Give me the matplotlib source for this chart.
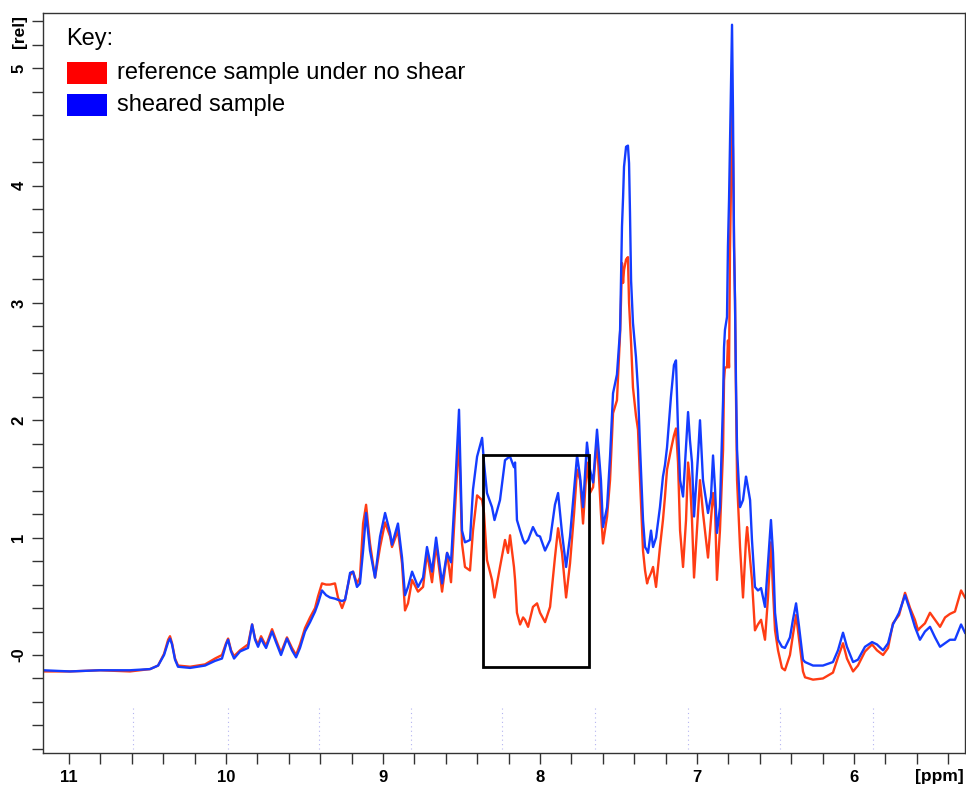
import matplotlib
matplotlib.use('Agg')
import matplotlib.pyplot as plt
from matplotlib.patches import Rectangle
from matplotlib.ticker import MultipleLocator

plt.rcParams['font.family'] = ['Liberation Sans', 'DejaVu Sans']

# chemical shift axis
ppm = [11.166, 10.994, 10.803, 10.612, 10.484, 10.433, 10.395, 10.369, 10.357, 10.344,
       10.325, 10.306, 10.229, 10.134, 10.070, 10.026, 10.000, 9.987, 9.968, 9.949,
       9.911, 9.860, 9.834, 9.815, 9.796, 9.777, 9.758, 9.745, 9.707, 9.682,
       9.650, 9.612, 9.580, 9.554, 9.529, 9.497, 9.465, 9.433, 9.414, 9.389,
       9.363, 9.338, 9.306, 9.287, 9.261, 9.242, 9.223, 9.210, 9.191, 9.166,
       9.147, 9.127, 9.108, 9.083, 9.051, 9.019, 8.987, 8.955, 8.943, 8.905,
       8.879, 8.860, 8.841, 8.815, 8.777, 8.745, 8.720, 8.688, 8.662, 8.624,
       8.592, 8.567, 8.541, 8.516, 8.497, 8.478, 8.446, 8.427, 8.401, 8.369,
       8.357, 8.338, 8.306, 8.290, 8.255, 8.223, 8.204, 8.191, 8.166, 8.159,
       8.147, 8.127, 8.108, 8.096, 8.076, 8.045, 8.019, 8.000, 7.968, 7.936,
       7.905, 7.885, 7.860, 7.834, 7.809, 7.783, 7.764, 7.745, 7.726, 7.701,
       7.682, 7.662, 7.637, 7.612, 7.599, 7.573, 7.554, 7.535, 7.510, 7.490,
       7.484, 7.478, 7.471, 7.465, 7.452, 7.440, 7.433, 7.427, 7.420, 7.408,
       7.389, 7.376, 7.363, 7.344, 7.331, 7.318, 7.312, 7.293, 7.280, 7.261,
       7.236, 7.217, 7.204, 7.191, 7.166, 7.147, 7.134, 7.121, 7.108, 7.089,
       7.070, 7.057, 7.045, 7.032, 7.019, 6.994, 6.981, 6.962, 6.930, 6.911,
       6.898, 6.885, 6.873, 6.854, 6.834, 6.828, 6.822, 6.809, 6.803, 6.796,
       6.790, 6.783, 6.777, 6.771, 6.764, 6.758, 6.752, 6.745, 6.726, 6.707,
       6.688, 6.681, 6.662, 6.650, 6.631, 6.612, 6.592, 6.567, 6.548, 6.529,
       6.516, 6.503, 6.484, 6.459, 6.440, 6.408, 6.389, 6.369, 6.350, 6.325,
       6.312, 6.261, 6.198, 6.134, 6.102, 6.070, 6.045, 6.006, 5.975, 5.930,
       5.885, 5.854, 5.815, 5.783, 5.752, 5.713, 5.675, 5.643, 5.612, 5.592,
       5.580, 5.548, 5.516, 5.484, 5.452, 5.420, 5.389, 5.357, 5.318, 5.293]

sheared = [-0.13, -0.14, -0.13, -0.13, -0.12, -0.09, 0.00, 0.11, 0.14, 0.09,
           -0.04, -0.10, -0.11, -0.09, -0.05, -0.03, 0.09, 0.13, 0.03, -0.03,
           0.03, 0.06, 0.26, 0.13, 0.07, 0.14, 0.09, 0.06, 0.20, 0.11,
           0.00, 0.14, 0.04, -0.02, 0.06, 0.20, 0.28, 0.37, 0.44, 0.55,
           0.51, 0.49, 0.48, 0.47, 0.46, 0.47, 0.60, 0.70, 0.71, 0.58,
           0.61, 0.89, 1.21, 0.89, 0.66, 1.01, 1.21, 1.04, 0.94, 1.12,
           0.83, 0.51, 0.58, 0.71, 0.58, 0.66, 0.92, 0.71, 1.00, 0.61,
           0.87, 0.79, 1.41, 2.09, 1.06, 0.96, 0.98, 1.41, 1.69, 1.85,
           1.64, 1.38, 1.26, 1.15, 1.32, 1.66, 1.68, 1.69, 1.60, 1.64,
           1.15, 1.06, 0.98, 0.95, 0.98, 1.09, 1.02, 1.01, 0.89, 0.98,
           1.28, 1.38, 1.04, 0.75, 1.01, 1.41, 1.70, 1.52, 1.26, 1.81,
           1.58, 1.47, 1.92, 1.49, 1.09, 1.26, 1.69, 2.23, 2.39, 2.77,
           3.19, 3.65, 3.90, 4.16, 4.33, 4.34, 4.19, 3.77, 3.19, 2.83,
           2.54, 2.26, 1.77, 1.15, 0.92, 0.89, 0.87, 1.06, 0.92, 1.00,
           1.26, 1.52, 1.62, 1.77, 2.20, 2.47, 2.51, 1.92, 1.49, 1.35,
           1.77, 2.07, 1.83, 1.64, 1.18, 1.69, 2.00, 1.49, 1.21, 1.35,
           1.70, 1.41, 1.04, 1.26, 2.17, 2.62, 2.77, 2.88, 3.48, 3.88,
           4.36, 4.90, 5.37, 4.64, 3.48, 3.02, 2.34, 1.75, 1.26, 1.32,
           1.52, 1.47, 1.32, 0.98, 0.58, 0.55, 0.57, 0.41, 0.78, 1.15,
           0.87, 0.36, 0.13, 0.07, 0.06, 0.15, 0.30, 0.44, 0.24, -0.04,
           -0.06, -0.09, -0.09, -0.06, 0.04, 0.19, 0.07, -0.06, -0.04, 0.07,
           0.11, 0.09, 0.04, 0.10, 0.26, 0.36, 0.51, 0.38, 0.24, 0.17,
           0.13, 0.20, 0.24, 0.15, 0.07, 0.10, 0.13, 0.13, 0.26, 0.19]

reference = [-0.14, -0.14, -0.13, -0.14, -0.12, -0.09, 0.01, 0.13, 0.16, 0.10,
             -0.03, -0.09, -0.10, -0.08, -0.03, 0.00, 0.10, 0.14, 0.04, -0.01,
             0.04, 0.09, 0.26, 0.14, 0.09, 0.16, 0.11, 0.08, 0.22, 0.13,
             0.02, 0.15, 0.06, 0.00, 0.09, 0.23, 0.32, 0.40, 0.50, 0.61,
             0.60, 0.60, 0.61, 0.49, 0.40, 0.47, 0.60, 0.68, 0.71, 0.61,
             0.66, 1.12, 1.28, 0.95, 0.66, 0.92, 1.13, 1.01, 0.92, 1.06,
             0.78, 0.38, 0.44, 0.64, 0.54, 0.58, 0.87, 0.62, 0.94, 0.54,
             0.87, 0.62, 1.26, 1.86, 0.95, 0.75, 0.72, 1.06, 1.36, 1.32,
             1.21, 0.81, 0.64, 0.49, 0.75, 0.98, 0.87, 1.02, 0.75, 0.64,
             0.36, 0.26, 0.32, 0.30, 0.24, 0.41, 0.44, 0.36, 0.28, 0.41,
             0.83, 1.08, 0.87, 0.49, 0.78, 1.21, 1.58, 1.49, 1.12, 1.64,
             1.38, 1.43, 1.83, 1.21, 0.95, 1.18, 1.49, 2.06, 2.17, 2.74,
             3.02, 3.34, 3.17, 3.28, 3.37, 3.39, 3.00, 2.85, 2.66, 2.28,
             2.04, 1.92, 1.49, 0.89, 0.72, 0.61, 0.64, 0.70, 0.75, 0.58,
             0.92, 1.15, 1.35, 1.58, 1.75, 1.87, 1.93, 1.64, 1.06, 0.75,
             1.15, 1.64, 1.49, 1.15, 0.66, 1.21, 1.49, 1.21, 0.83, 1.15,
             1.38, 1.24, 0.64, 1.06, 1.75, 2.34, 2.45, 2.45, 2.68, 2.45,
             3.45, 4.05, 4.64, 4.30, 3.48, 3.02, 2.23, 1.49, 0.92, 0.49,
             0.98, 1.09, 0.81, 0.64, 0.21, 0.26, 0.30, 0.13, 0.49, 0.96,
             0.55, 0.21, 0.04, -0.11, -0.13, 0.00, 0.17, 0.34, 0.13, -0.14,
             -0.19, -0.21, -0.20, -0.15, -0.02, 0.10, -0.03, -0.14, -0.09, 0.03,
             0.09, 0.04, 0.00, 0.06, 0.27, 0.34, 0.53, 0.40, 0.30, 0.21,
             0.23, 0.27, 0.36, 0.30, 0.24, 0.32, 0.35, 0.37, 0.55, 0.49]

# highlighted region (ppm range, intensity range)
box_ppm = [8.363, 7.688]
box_rel = [-0.10, 1.70]

# faint dotted markers near the bottom of the spectrum window
marker_ppm = [10.59, 9.99, 9.41, 8.82, 8.24, 7.65, 7.06, 6.47, 5.88]

x_ticks = [11, 10, 9, 8, 7, 6]
y_ticks = [0, 1, 2, 3, 4, 5]
y_tick_labels = ['-0', '1', '2', '3', '4', '5']
legend_labels = ['reference sample under no shear', 'sheared sample']
legend_colors = ['#ff0000', '#0000ff']

W, H = 966, 785
fig = plt.figure(figsize=(W / 100, H / 100), dpi=100)
ax = fig.add_axes([43 / W, 1 - 753 / H, 922 / W, 740 / H])

for p in marker_ppm:
    ax.plot([p, p], [-0.45, -0.8], color='#b4b4f0', lw=0.8, ls=(0, (1, 3)))

ax.plot(ppm, reference, color='#ff3c14', lw=1.7)
ax.plot(ppm, sheared, color='#143cff', lw=1.7)

ax.add_patch(Rectangle((box_ppm[0], box_rel[0]), box_ppm[1] - box_ppm[0], box_rel[1] - box_rel[0],
                       fill=False, edgecolor='black', lw=2, zorder=5))

ax.set_xlim(11.166, 5.293)
ax.set_ylim(-0.835, 5.47)

ax.set_xticks(x_ticks)
ax.set_xticklabels([str(t) for t in x_ticks], fontsize=12, fontweight='bold')
ax.xaxis.set_minor_locator(MultipleLocator(0.2))
ax.set_yticks(y_ticks)
ax.set_yticklabels(y_tick_labels, fontsize=12, fontweight='bold', rotation=90, va='center')
ax.yaxis.set_minor_locator(MultipleLocator(0.2))
ax.tick_params(which='both', direction='out', length=8, width=1, color='#333333', pad=4)

for s in ax.spines.values():
    s.set_color('#333333')
    s.set_linewidth(1)

fig.text(20 / W, 1 - 31 / H, '[rel]', rotation=90, fontsize=12.5, fontweight='bold', ha='center', va='center')
fig.text(939 / W, 1 - 777 / H, '[ppm]', fontsize=12.5, fontweight='bold', ha='center', va='center')

# key
fig.text(66 / W, 1 - 39 / H, 'Key:', fontsize=17, ha='left', va='center')
for i, (lab, col) in enumerate(zip(legend_labels, legend_colors)):
    top = 62 + i * 32
    fig.patches.append(Rectangle((67 / W, 1 - (top + 22) / H), 40 / W, 22 / H,
                                 transform=fig.transFigure, facecolor=col, edgecolor='none'))
    fig.text(117 / W, 1 - (top + 11) / H, lab, fontsize=17, ha='left', va='center')

fig.savefig('out.png', dpi=100)
